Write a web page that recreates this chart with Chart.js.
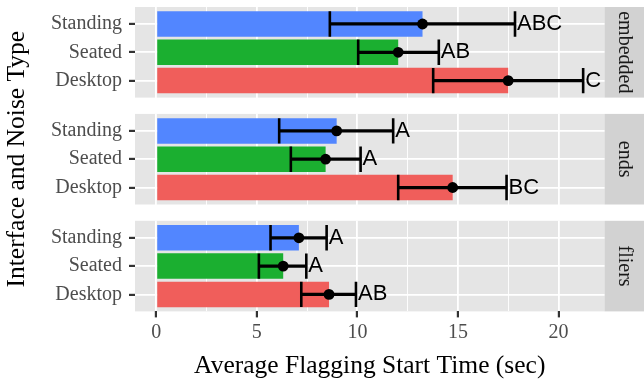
<!DOCTYPE html>
<html>
<head>
<meta charset="utf-8">
<script src="https://cdn.jsdelivr.net/npm/chart.js@4.4.0/dist/chart.umd.min.js"></script>
<style>
  html, body { margin: 0; padding: 0; background: #fff; }
  #wrap { position: relative; width: 644px; height: 379px; }
  #wrap canvas { position: absolute; left: 0; top: 0; }
</style>
</head>
<body>
<div id="wrap">
  <canvas id="c0" width="644" height="379"></canvas>
  <canvas id="c1" width="644" height="379"></canvas>
  <canvas id="c2" width="644" height="379"></canvas>
</div>
<script>
(function () {
  'use strict';

  // bottom to top inside each panel
  var categories = ['Desktop', 'Seated', 'Standing'];
  var noiseTypes = ['embedded', 'ends', 'fliers'];

  var meanEmbedded = [17.5, 12.03, 13.24];
  var lowerEmbedded = [13.77, 10.04, 8.63];
  var upperEmbedded = [21.23, 14.05, 17.84];
  var lettersEmbedded = ['C', 'AB', 'ABC'];

  var meanEnds = [14.74, 8.42, 8.97];
  var lowerEnds = [12.03, 6.69, 6.11];
  var upperEnds = [17.42, 10.16, 11.78];
  var lettersEnds = ['BC', 'A', 'A'];

  var meanFliers = [8.59, 6.31, 7.09];
  var lowerFliers = [7.21, 5.1, 5.68];
  var upperFliers = [9.93, 7.46, 8.47];
  var lettersFliers = ['AB', 'A', 'A'];

  var xTickValues = [0, 2.5, 5, 7.5, 10, 12.5, 15, 17.5, 20];

  // layout
  var W = 644, H = 379;
  var plotLeft = 135;
  var stripW = 39.5;
  var panelTop = [7, 113.9, 220.8];
  var panelH = 90.6;
  var xAxisH = H - (panelTop[2] + panelH);
  var barColors = ['#F05E5B', '#1BAF30', '#5286FF'];

  Chart.defaults.font.family = '"Liberation Serif", serif';

  var allUpper = upperEmbedded.concat(upperEnds, upperFliers);
  var xHi = Math.max.apply(null, allUpper);
  var xPad = xHi * 0.05;

  var panelPlugin = {
    id: 'panel',
    beforeDraw: function (chart, args, opts) {
      var a = chart.chartArea, ctx = chart.ctx;
      ctx.save();
      ctx.fillStyle = '#E5E5E5';
      ctx.fillRect(a.left, a.top, a.right - a.left, a.bottom - a.top);
      ctx.fillStyle = '#D2D2D2';
      ctx.fillRect(a.right, a.top, W - a.right, a.bottom - a.top);
      ctx.translate(a.right + (W - a.right) / 2, (a.top + a.bottom) / 2);
      ctx.rotate(Math.PI / 2);
      ctx.fillStyle = '#1A1A1A';
      ctx.font = '20px "Liberation Serif"';
      ctx.textAlign = 'center';
      ctx.textBaseline = 'middle';
      ctx.fillText(opts.strip, 0, 0);
      ctx.restore();
    },
    afterDatasetsDraw: function (chart, args, opts) {
      var ctx = chart.ctx, xs = chart.scales.x, ys = chart.scales.y;
      ctx.save();
      ctx.fillStyle = '#000';
      ctx.font = '22px "Liberation Sans"';
      ctx.textAlign = 'left';
      ctx.textBaseline = 'middle';
      opts.letters.forEach(function (t, k) {
        ctx.fillText(t, xs.getPixelForValue(opts.upper[k]) + 2, ys.getPixelForValue(k + 1));
      });
      ctx.restore();
    },
    afterDraw: function (chart, args, opts) {
      if (!opts.yTitle) return;
      var ctx = chart.ctx;
      ctx.save();
      ctx.translate(17.5, (panelTop[0] + panelTop[2] + panelH) / 2);
      ctx.rotate(-Math.PI / 2);
      ctx.fillStyle = '#000';
      ctx.font = '25.5px "Liberation Serif"';
      ctx.textAlign = 'center';
      ctx.textBaseline = 'middle';
      ctx.fillText(opts.yTitle, 0, 0);
      ctx.restore();
    }
  };

  function isMajor(c) {
    return c.tick && c.tick.value % 5 === 0;
  }

  function makePanel(idx, means, lower, upper, letters) {
    var isBottom = idx === noiseTypes.length - 1;
    var barData = means.map(function (m, k) { return { x: m, y: k + 1 }; });
    var whiskerData = lower.map(function (lo, k) { return { x: [lo, upper[k]], y: k + 1 }; });
    var capData = [];
    lower.forEach(function (lo, k) {
      capData.push({ x: lo, y: k + 1 }, { x: upper[k], y: k + 1 });
    });
    var pointData = means.map(function (m, k) { return { x: m, y: k + 1 }; });

    var padTop = panelTop[idx];
    var padBottom = isBottom ? 0 : H - (panelTop[idx] + panelH);

    return new Chart(document.getElementById('c' + idx), {
      type: 'bar',
      data: {
        datasets: [
          {
            type: 'bar', data: barData, backgroundColor: barColors,
            barPercentage: 0.9, categoryPercentage: 1, grouped: false, order: 4
          },
          {
            type: 'bar', data: whiskerData, backgroundColor: '#000',
            barThickness: 2.6, grouped: false, order: 3
          },
          {
            type: 'scatter', data: capData, pointStyle: 'line', pointRotation: 90,
            pointRadius: 12.7, pointBorderColor: '#000', pointBorderWidth: 2.6, order: 2
          },
          {
            type: 'scatter', data: pointData, pointStyle: 'circle', pointRadius: 5.4,
            pointBackgroundColor: '#000', pointBorderWidth: 0, order: 1
          }
        ]
      },
      options: {
        indexAxis: 'y',
        responsive: false,
        animation: false,
        events: [],
        layout: {
          autoPadding: false,
          padding: { top: padTop, bottom: padBottom, left: 0, right: stripW }
        },
        plugins: {
          legend: { display: false },
          tooltip: { enabled: false },
          panel: {
            strip: noiseTypes[idx], letters: letters, upper: upper,
            yTitle: idx === 0 ? 'Interface and Noise Type' : null
          }
        },
        scales: {
          x: {
            type: 'linear',
            min: -xPad,
            max: xHi + xPad,
            offset: false,
            afterBuildTicks: function (s) {
              s.ticks = xTickValues.map(function (v) { return { value: v }; });
            },
            afterFit: function (s) {
              s.height = isBottom ? xAxisH : 0;
              s.paddingLeft = 0;
              s.paddingRight = 0;
            },
            border: { display: false },
            grid: {
              color: '#fff',
              lineWidth: function (c) { return isMajor(c) ? 1.8 : 0.9; },
              drawTicks: isBottom,
              tickLength: 6,
              tickWidth: 2.2,
              tickColor: function (c) { return isMajor(c) ? '#333' : 'rgba(0,0,0,0)'; }
            },
            ticks: {
              display: isBottom,
              autoSkip: false,
              maxRotation: 0,
              padding: 3,
              color: '#4D4D4D',
              font: { size: 20 },
              callback: function (v) { return v % 5 === 0 ? String(v) : ''; }
            },
            title: {
              display: isBottom,
              text: 'Average Flagging Start Time (sec)',
              color: '#000',
              font: { size: 25.5, lineHeight: 1 },
              padding: { top: 0, bottom: 0.3 }
            }
          },
          y: {
            type: 'linear',
            min: 0.4,
            max: 3.6,
            offset: false,
            afterBuildTicks: function (s) {
              s.ticks = categories.map(function (c, k) { return { value: k + 1 }; });
            },
            afterFit: function (s) {
              s.width = plotLeft;
              s.paddingTop = 0;
              s.paddingBottom = 0;
            },
            border: { display: false },
            grid: {
              offset: false,
              color: '#fff',
              lineWidth: 1.8,
              tickLength: 6,
              tickWidth: 2.2,
              tickColor: '#333'
            },
            ticks: {
              padding: 7,
              color: '#4D4D4D',
              font: { size: 20 },
              callback: function (v) { return categories[v - 1]; }
            }
          }
        }
      },
      plugins: [panelPlugin]
    });
  }

  makePanel(0, meanEmbedded, lowerEmbedded, upperEmbedded, lettersEmbedded);
  makePanel(1, meanEnds, lowerEnds, upperEnds, lettersEnds);
  makePanel(2, meanFliers, lowerFliers, upperFliers, lettersFliers);
}());
</script>
</body>
</html>
